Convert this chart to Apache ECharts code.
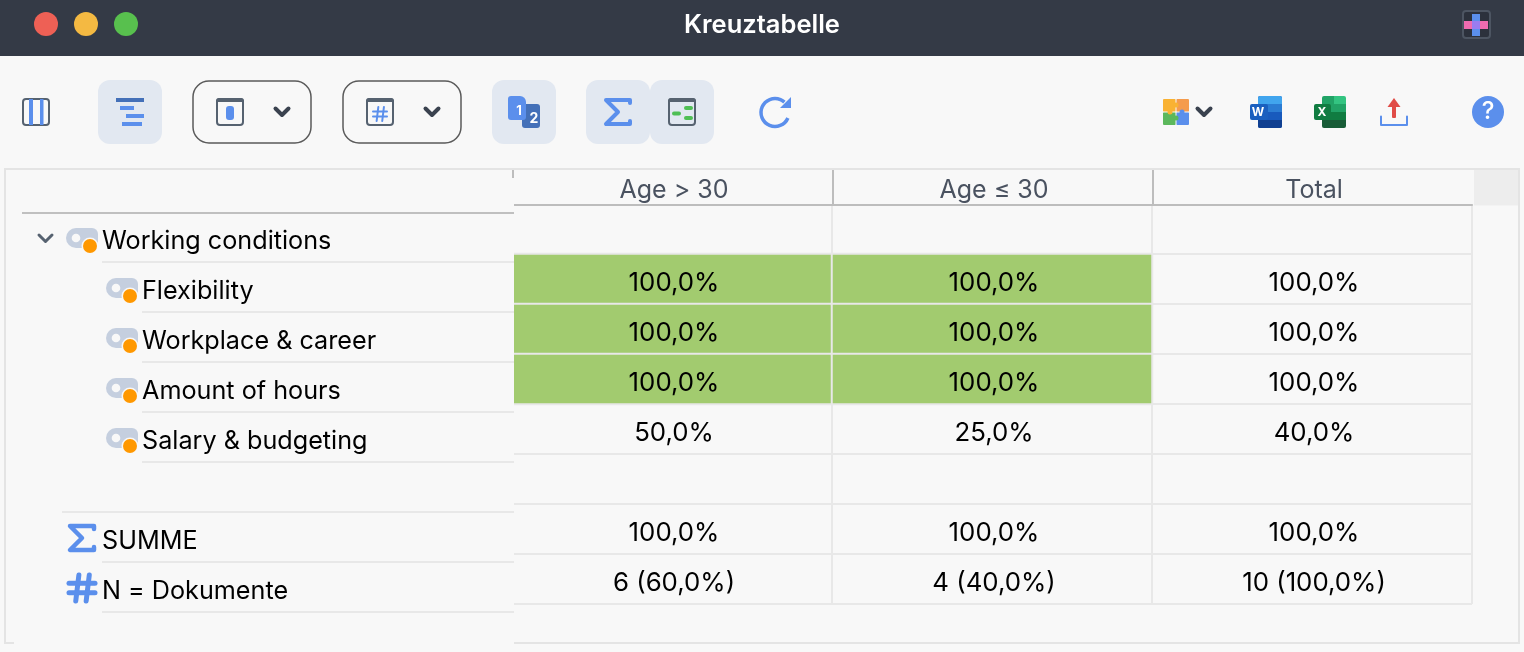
<!DOCTYPE html>
<html lang="de">
<head>
    <meta charset="UTF-8">
    <title>Kreuztabelle</title>
    <script src="https://cdn.jsdelivr.net/npm/echarts@6/dist/echarts.min.js"></script>
    <style>
        html, body { margin: 0; padding: 0; background: #f8f8f8; }
    </style>
</head>
<body>
<div id="box1" style="width: 1524px;height: 652px"></div>
<script>
    var columns = ['Age > 30', 'Age ≤ 30', 'Total'];
    var rows = ['Working conditions', 'Flexibility', 'Workplace & career', 'Amount of hours', 'Salary & budgeting', '', 'SUMME', 'N = Dokumente'];
    // row kinds: 'top' sits at the first indent, 'child' is one level in
    var rowKinds = ['top', 'child', 'child', 'child', 'child', 'top', 'top', 'top'];

    // percent per row, null = empty cell; the last row holds document counts
    var ageOver30 = [null, 100, 100, 100, 50, null, 100, 6];
    var ageUnder30 = [null, 100, 100, 100, 25, null, 100, 4];
    var ageTotal = [null, 100, 100, 100, 40, null, 100, 10];
    var nShare = [60, 40, 100];
    var greenCells = [[0, 1], [0, 2], [0, 3], [1, 1], [1, 2], [1, 3]];

    var FONT = 'Inter';
    var BG = '#f8f8f8', BLUE = '#5b8fec', DARKBLUE = '#4470b8', SLATE = '#566270', LINE = '#e8e8e8';

    function pct(v) {
        return v.toFixed(1).replace('.', ',') + '%';
    }

    function buildCells() {
        var out = [];
        [ageOver30, ageUnder30, ageTotal].forEach(function (col, c) {
            col.forEach(function (v, r) {
                if (v === null) return;
                var isCount = r === rows.length - 1;
                var green = greenCells.some(function (g) { return g[0] === c && g[1] === r; });
                out.push({
                    value: [c, r, v],
                    text: isCount ? v + ' (' + pct(nShare[c]) + ')' : pct(v),
                    itemStyle: green
                        ? {color: '#a2cb6f', borderColor: LINE, borderWidth: 2}
                        : {color: 'rgba(0,0,0,0)'}
                });
            });
        });
        return out;
    }

    // small helpers for the window chrome
    function rect(x, y, w, h, r, fill, stroke, lw) {
        return {type: 'rect', z: 10, silent: true, shape: {x: x, y: y, width: w, height: h, r: r},
            style: {fill: fill || 'none', stroke: stroke || 'none', lineWidth: lw || 0}};
    }
    function dot(cx, cy, r, fill) {
        return {type: 'circle', z: 10, silent: true, shape: {cx: cx, cy: cy, r: r}, style: {fill: fill}};
    }
    function seg(x1, y1, x2, y2, color, lw, cap) {
        return {type: 'line', z: 10, silent: true, shape: {x1: x1, y1: y1, x2: x2, y2: y2},
            style: {stroke: color, lineWidth: lw, lineCap: cap || 'butt'}};
    }
    function path(points, color, lw) {
        return {type: 'polyline', z: 10, silent: true, shape: {points: points},
            style: {stroke: color, lineWidth: lw, fill: 'none', lineCap: 'round', lineJoin: 'round'}};
    }
    function poly(points, fill) {
        return {type: 'polygon', z: 10, silent: true, shape: {points: points}, style: {fill: fill}};
    }
    function txt(x, y, s, color, size, weight) {
        return {type: 'text', z: 11, silent: true, x: x, y: y,
            style: {text: s, fill: color, font: (weight || 'normal') + ' ' + size + 'px ' + FONT, textAlign: 'center', textVerticalAlign: 'middle'}};
    }
    function chevron(cx, cy, color, lw) {
        return path([[cx - 6.5, cy - 3.5], [cx, cy + 3], [cx + 6.5, cy - 3.5]], color, lw);
    }
    function tagIcon(x, y) {
        return [
            rect(x, y, 32, 20, [10, 6, 6, 10], '#c5cfdf'),
            dot(x + 10, y + 10, 4.3, BG),
            dot(x + 24, y + 18, 8.5, BG),
            dot(x + 24, y + 18, 7, '#ff9800')
        ];
    }
    function frameIcon(x, y) {
        return [
            rect(x + 1, y + 1, 26, 26, 3, 'none', SLATE, 2),
            rect(x, y, 28, 4, [3, 3, 0, 0], SLATE)
        ];
    }
    function sigma(x, y, lw) {
        return path([[x + 26, y + 5], [x + 26, y + 2], [x + 2, y + 2], [x + 14, y + 14], [x + 2, y + 26], [x + 26, y + 26], [x + 26, y + 23]], BLUE, lw);
    }
    function hash(x, y, size, lw) {
        var s = size;
        return [
            seg(x + s * 0.38, y, x + s * 0.26, y + s, BLUE, lw, 'round'),
            seg(x + s * 0.78, y, x + s * 0.66, y + s, BLUE, lw, 'round'),
            seg(x, y + s * 0.32, x + s, y + s * 0.32, BLUE, lw, 'round'),
            seg(x, y + s * 0.68, x + s, y + s * 0.68, BLUE, lw, 'round')
        ];
    }

    function chrome() {
        var g = [];
        // title bar
        g.push(rect(0, 0, 1524, 56, 0, '#343a46'));
        g.push(dot(46, 24, 12, '#ee6055'), dot(86, 24, 12, '#f4b942'), dot(126, 24, 12, '#58c04e'));
        g.push(txt(762, 25.5, 'Kreuztabelle', '#ffffff', 25.5, '600'));
        g.push(rect(1463, 11, 27, 27, 3, '#2c313c', '#4d5562', 2));
        g.push(rect(1472, 14, 8, 22, 0, BLUE), rect(1464, 21, 24, 8, 0, '#ef6bb0'), rect(1472, 21, 8, 8, 0, '#9a7cf0'));

        // toolbar, left part
        g.push(rect(23, 99, 26, 26, 3, 'none', SLATE, 2), rect(29, 99, 4, 26, 0, BLUE), rect(40, 99, 3.5, 26, 0, BLUE));
        g.push(rect(98, 80, 64, 64, 12, '#e2e8f1'));
        g.push(rect(116, 98, 28, 4, 0, DARKBLUE), rect(120, 106, 14, 4, 0, BLUE), rect(126, 114, 18, 4, 0, BLUE), rect(122, 122, 20, 4, 0, BLUE));

        g.push(rect(193, 81, 118, 62, 16, 'none', '#5a5a5a', 1.5));
        g = g.concat(frameIcon(216, 98));
        g.push(rect(226, 106, 8, 14, 3, BLUE), chevron(282, 112, '#3a424f', 4));

        g.push(rect(343, 81, 118, 62, 16, 'none', '#5a5a5a', 1.5));
        g = g.concat(frameIcon(366, 98));
        g = g.concat(hash(373, 107, 14, 2));
        g.push(chevron(432, 112, '#3a424f', 4));

        g.push(rect(492, 80, 64, 64, 12, '#e2e8f1'));
        g.push(rect(522, 104, 18, 24, 3, DARKBLUE));
        g.push(rect(508, 96, 18, 24, [3, 6, 3, 3], BLUE));
        g.push(txt(519, 111, '1', '#ffffff', 13, 'bold'), txt(534, 119, '2', '#ffffff', 14, 'bold'));

        g.push(rect(586, 80, 64, 64, 12, '#e2e8f1'), rect(650, 80, 64, 64, 12, '#e2e8f1'));
        g.push(sigma(604, 98, 4));
        g = g.concat(frameIcon(668, 98));
        g.push(seg(674, 113.5, 679, 113.5, '#4fbf55', 4, 'round'), seg(686, 108, 691, 108, '#4fbf55', 4, 'round'), seg(686, 118, 691, 118, '#4fbf55', 4, 'round'));

        g.push({type: 'arc', z: 10, silent: true, shape: {cx: 775, cy: 112.5, r: 14, startAngle: 0.4, endAngle: 5.45},
            style: {stroke: BLUE, lineWidth: 3.5, fill: 'none'}});
        g.push(poly([[791, 97], [791, 108], [780, 108]], BLUE));

        // toolbar, right part
        g.push(rect(1163, 99, 13, 13, 1, '#f9b233'), rect(1176, 99, 13, 13, 1, '#f59b4c'), rect(1163, 112, 13, 13, 1, '#5cb85c'), rect(1176, 112, 13, 13, 1, BLUE));
        g.push(seg(1176, 99, 1176, 125, BG, 1), seg(1163, 112, 1189, 112, BG, 1));
        g.push(dot(1176, 105, 2.5, '#f9b233'), dot(1170, 112, 2.5, '#f9b233'), dot(1182, 112, 2.5, BLUE), dot(1176, 118, 2.5, '#5cb85c'));
        g.push(chevron(1204, 112, '#3a424f', 4));

        g.push(rect(1258, 96, 24, 32, 2, '#185abd'));
        g.push(rect(1258, 96, 24, 8, [2, 2, 0, 0], '#41a5ee'), rect(1258, 104, 24, 8, 0, '#2b7cd3'), rect(1258, 120, 24, 8, [0, 0, 2, 2], '#103f91'));
        g.push(rect(1250, 104, 18, 16, 2, '#1a5fbf'), txt(1258, 112, 'W', '#ffffff', 12, 'bold'));

        g.push(rect(1322, 96, 12, 8, [2, 0, 0, 0], '#21a366'), rect(1334, 96, 12, 8, [0, 2, 0, 0], '#33c481'));
        g.push(rect(1322, 104, 12, 8, 0, '#21a366'), rect(1334, 104, 12, 8, 0, '#21a366'));
        g.push(rect(1322, 112, 12, 8, 0, '#107c41'), rect(1334, 112, 12, 8, 0, '#107c41'));
        g.push(rect(1322, 120, 24, 8, [0, 0, 2, 2], '#185c37'));
        g.push(rect(1314, 104, 17, 16, 2, '#107c41'), txt(1322, 112, 'X', '#ffffff', 12, 'bold'));

        g.push(path([[1381, 116.5], [1381, 125], [1407, 125], [1407, 116.5]], BLUE, 2));
        g.push(rect(1392, 105, 4, 13, 1, '#e04c47'), poly([[1387.5, 107], [1394, 98], [1400.5, 107]], '#e04c47'));
        g.push(dot(1488, 112, 16, BLUE), txt(1488, 111.5, '?', '#ffffff', 24, '500'));

        // table frame
        g.push(seg(4, 169, 1520, 169, '#e4e4e4', 2), seg(5, 169, 5, 643, '#e4e4e4', 2), seg(1519, 169, 1519, 643, '#e4e4e4', 2));
        g.push(seg(4, 643, 14, 643, '#e4e4e4', 2), seg(514, 643, 1520, 643, '#e4e4e4', 2));
        g.push(rect(1474, 170, 44, 35.5, 0, '#ededed'));
        g.push(seg(833, 170, 833, 205, '#bdbdbd', 2), seg(1153, 170, 1153, 205, '#bdbdbd', 2), seg(513, 170, 513, 178, '#bdbdbd', 2));

        // the row head ends where the cells begin
        g.push(rect(510, 203, 4, 403, 0, BG));

        // row head lines and icons
        g.push(seg(22, 213, 514, 213, '#c0c0c0', 2));
        [[102, 262], [142, 312], [142, 362], [142, 412], [142, 462], [62, 512], [102, 562], [102, 612]].forEach(function (l) {
            g.push(seg(l[0], l[1], 514, l[1], LINE, 2));
        });
        g.push(chevron(45.5, 238.5, SLATE, 3));
        g = g.concat(tagIcon(66, 228), tagIcon(106, 278), tagIcon(106, 328), tagIcon(106, 378), tagIcon(106, 428));
        g.push(sigma(68, 524, 4.5));
        g = g.concat(hash(69, 575, 26, 5));
        return g;
    }

    var mychar1 = echarts.init(document.getElementById('box1'));

    var option1 = {
        backgroundColor: BG,
        animation: false,
        textStyle: {fontFamily: FONT},
        grid: {left: 512, top: 204, width: 960, height: 400},
        xAxis: {
            type: 'category',
            position: 'top',
            offset: -1,
            data: columns,
            axisLine: {show: true, lineStyle: {color: '#bdbdbd', width: 2}},
            axisTick: {show: false},
            axisLabel: {color: '#4a5260', fontSize: 25, fontFamily: FONT, margin: 2, padding: [0, 0, 0, 4]},
            splitLine: {show: true, showMinLine: false, lineStyle: {color: LINE, width: 2}}
        },
        yAxis: {
            type: 'category',
            inverse: true,
            data: rows,
            axisLine: {show: false},
            axisTick: {show: false},
            splitLine: {show: true, showMinLine: false, lineStyle: {color: LINE, width: 2}},
            axisLabel: {
                align: 'left',
                margin: 410,
                formatter: function (name, i) {
                    return name ? '{' + rowKinds[i] + '|' + name + '}' : '';
                },
                rich: {
                    top: {color: '#000', fontSize: 25.2, fontFamily: FONT, padding: [24, 0, 0, 0]},
                    child: {color: '#000', fontSize: 25.2, fontFamily: FONT, padding: [24, 0, 0, 40]}
                }
            }
        },
        series: [{
            type: 'heatmap',
            data: buildCells(),
            label: {
                show: true,
                color: '#000',
                fontSize: 25.8,
                fontFamily: FONT,
                offset: [2, 4],
                formatter: function (p) { return p.data.text; }
            },
            emphasis: {disabled: true}
        }],
        graphic: {elements: chrome()}
    };
    mychar1.setOption(option1);
</script>
</body>
</html>
